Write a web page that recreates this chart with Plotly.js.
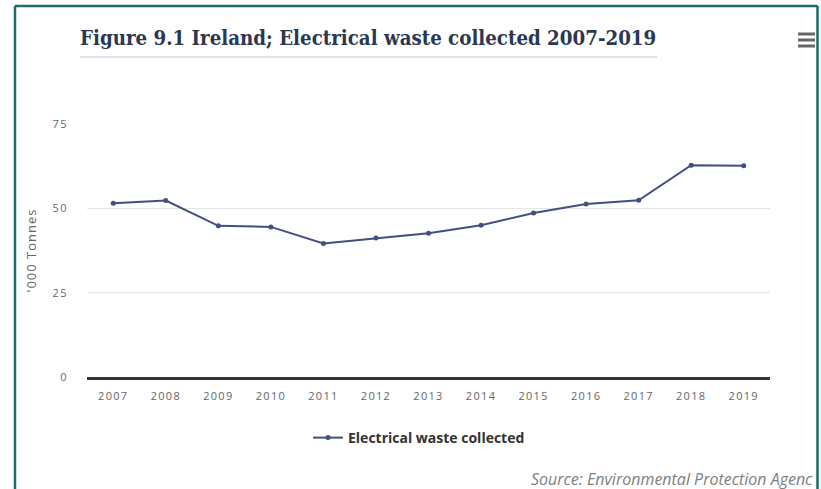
<!DOCTYPE html>
<html>
<head>
<meta charset="utf-8">
<script src="https://cdn.plot.ly/plotly-3.0.1.min.js"></script>
<style>
  html, body { margin: 0; padding: 0; background: #fff; }
  #chart { width: 821px; height: 489px; }
  .xtick text, .ytick text { letter-spacing: 1.3px; }
  .g-ytitle text { letter-spacing: 1px; }
</style>
</head>
<body>
<div id="chart"></div>
<script>
const years = ["2007","2008","2009","2010","2011","2012","2013","2014","2015","2016","2017","2018","2019"];
const wasteCollected = [51.5, 52.3, 44.8, 44.5, 39.6, 41.2, 42.6, 45.0, 48.6, 51.3, 52.4, 62.8, 62.6];
const seriesName = "Electrical waste collected";
const yTicks = [0, 25, 50, 75];
const titleText = "Figure 9.1 Ireland; Electrical waste collected 2007-2019";
const sourceText = "Source: Environmental Protection Agenc";
const yTitle = "'000 Tonnes";

const W = 821, H = 489;
const L = 87, R = 770, T = 124, B = 377;
function px(x) { return (x - L) / (R - L); }
function py(y) { return (B - y) / (B - T); }

const trace = {
  type: "scatter",
  mode: "lines+markers",
  x: years,
  y: wasteCollected,
  name: "<b>" + seriesName + "</b>",
  line: { color: "#434f80", width: 2 },
  marker: { color: "#434f80", size: 5 },
  showlegend: true
};

const teal = "#1d6c6c";
const layout = {
  width: W, height: H,
  margin: { l: L, r: W - R, t: T, b: H - B, pad: 0 },
  paper_bgcolor: "#fff",
  plot_bgcolor: "#fff",
  showlegend: true,
  title: {
    text: "<b>" + titleText + "</b>",
    font: { family: "DejaVu Serif Condensed, DejaVu Serif, serif", size: 20.3, color: "#2b3753" },
    xref: "container", yref: "container",
    x: 80 / W, xanchor: "left",
    y: 1 - 38 / H, yanchor: "middle"
  },
  xaxis: {
    type: "category",
    range: [-0.5, years.length - 0.5],
    tickvals: years,
    showgrid: false,
    zeroline: false,
    showline: true,
    linecolor: "#333",
    linewidth: 2.5,
    ticks: "outside",
    ticklen: 7,
    tickcolor: "rgba(0,0,0,0)",
    tickfont: { family: "Open Sans, sans-serif", size: 11, color: "#666" },
    fixedrange: true
  },
  yaxis: {
    range: [0, 75],
    tickvals: yTicks,
    showgrid: true,
    gridcolor: "#e6e6e6",
    gridwidth: 1,
    zeroline: false,
    showline: false,
    ticks: "outside",
    ticklen: 16,
    tickcolor: "rgba(0,0,0,0)",
    tickfont: { family: "Open Sans, sans-serif", size: 11, color: "#666" },
    title: {
      text: yTitle,
      font: { family: "Open Sans, sans-serif", size: 13, color: "#666" },
      standoff: 13
    },
    automargin: false,
    fixedrange: true
  },
  legend: {
    orientation: "h",
    x: px(419), xanchor: "center",
    y: py(438), yanchor: "middle",
    font: { family: "Open Sans, sans-serif", size: 14, color: "#333" },
    bgcolor: "rgba(0,0,0,0)"
  },
  annotations: [{
    text: "<i>" + sourceText + "</i>",
    xref: "paper", yref: "paper",
    x: px(815), xanchor: "right",
    y: py(479), yanchor: "middle",
    showarrow: false,
    font: { family: "Open Sans, sans-serif", size: 16, color: "#808080" }
  }],
  shapes: [
    { type: "line", xref: "paper", yref: "paper", x0: px(80), x1: px(657), y0: py(57), y1: py(57), line: { color: "#d4dde3", width: 1.5 } },
    { type: "line", xref: "paper", yref: "paper", x0: px(15), x1: px(15), y0: py(6), y1: py(495), line: { color: teal, width: 2.5 } },
    { type: "line", xref: "paper", yref: "paper", x0: px(817.5), x1: px(817.5), y0: py(6), y1: py(495), line: { color: teal, width: 2.5 } },
    { type: "line", xref: "paper", yref: "paper", x0: px(15), x1: px(817.5), y0: py(6), y1: py(6), line: { color: teal, width: 2.5 } },
    { type: "line", xref: "paper", yref: "paper", x0: px(798), x1: px(815), y0: py(34), y1: py(34), line: { color: "#666", width: 3 } },
    { type: "line", xref: "paper", yref: "paper", x0: px(798), x1: px(815), y0: py(40), y1: py(40), line: { color: "#666", width: 3 } },
    { type: "line", xref: "paper", yref: "paper", x0: px(798), x1: px(815), y0: py(46), y1: py(46), line: { color: "#666", width: 3 } }
  ]
};

Plotly.newPlot("chart", [trace], layout, { displayModeBar: false, staticPlot: true });
</script>
</body>
</html>
